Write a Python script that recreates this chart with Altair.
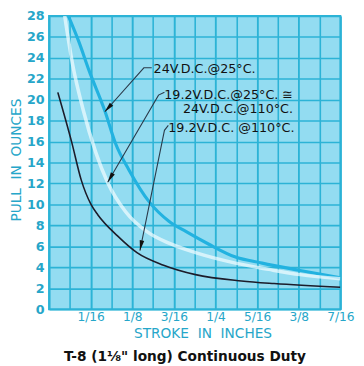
import math
import altair as alt
import pandas as pd

# ---- data (stroke in inches, pull in ounces) ----
cyan_x = [0.029, 0.045, 0.060, 0.084, 0.100, 0.120, 0.151, 0.180, 0.206, 0.240, 0.279, 0.320, 0.377, 0.4375]
cyan_y = [28.0, 25.5, 22.8, 18.9, 15.8, 13.3, 10.2, 8.4, 7.4, 6.2, 5.0, 4.4, 3.7, 3.0]

white_x = [0.0235, 0.035, 0.0514, 0.070, 0.088, 0.115, 0.147, 0.180, 0.220, 0.280, 0.330, 0.377, 0.4375]
white_y = [28.0, 23.5, 19.0, 15.0, 12.1, 9.3, 7.4, 6.3, 5.4, 4.4, 3.8, 3.3, 2.9]

black_x = [0.0132, 0.0338, 0.0485, 0.063, 0.0734, 0.1028, 0.132, 0.172, 0.220, 0.289, 0.338, 0.4375]
black_y = [20.7, 16.0, 12.3, 10.0, 9.0, 7.0, 5.4, 4.2, 3.3, 2.7, 2.45, 2.1]

x_tick_labels = ["", "1/16", "1/8", "3/16", "1/4", "5/16", "3/8", "7/16"]

label_text = ["24V.D.C.@25°C.", "19.2V.D.C.@25°C. ≅", "24V.D.C.@110°C.", "19.2V.D.C. @110°C."]
label_x = [0.157, 0.173, 0.201, 0.179]
label_y = [22.9, 20.4, 19.1, 17.3]

leader_id = [1, 1, 1, 2, 2, 2, 3, 3, 3]
leader_ord = [0, 1, 2, 0, 1, 2, 0, 1, 2]
leader_x = [0.1542, 0.1424, 0.0837, 0.1733, 0.1644, 0.0881, 0.1791, 0.1733, 0.1365]
leader_y = [23.05, 23.05, 18.85, 20.72, 20.44, 12.13, 17.55, 17.08, 5.60]

W, H = 298, 300
XMAX, YMAX = 0.4375, 28

xs = alt.Scale(domain=[0, XMAX], nice=False, zero=False)
ys = alt.Scale(domain=[0, YMAX], nice=False)

GRID = "#2cb3d6"
LBL = "#26a6c9"

label_expr = str(x_tick_labels) + "[round(datum.value*16)]"

# labelled axis at 1/16 steps
x_axis = alt.Axis(values=[k / 16 for k in range(8)], grid=True, gridColor=GRID, gridWidth=1.6,
                  ticks=False, domain=False, labelExpr=label_expr, labelFlush=False,
                  labelOverlap=False, labelColor=LBL, labelFont="DejaVu Sans", labelFontSize=12.5,
                  labelPadding=2, title="STROKE\u00a0\u00a0IN\u00a0\u00a0INCHES", titleColor=LBL,
                  titleFont="DejaVu Sans", titleFontSize=14, titleFontWeight="normal",
                  titleX=157, titleY=25, titleBaseline="middle", titleAlign="center")
# grid-only axis at 1/32 steps
x_grid_axis = alt.Axis(orient="top", values=[k / 32 for k in range(15)], grid=True, gridColor=GRID,
                       gridWidth=1.6, ticks=False, domain=False, labels=False, title=None)
y_axis = alt.Axis(values=list(range(0, 29, 2)), grid=True, gridColor=GRID, gridWidth=1.6,
                  ticks=False, domain=False, labelColor=LBL, labelFont="DejaVu Sans",
                  labelFontSize=13, labelFontWeight="bold", labelPadding=5, labelOverlap=False,
                  title="PULL\u00a0\u00a0IN\u00a0\u00a0OUNCES", titleColor=LBL, titleFont="DejaVu Sans",
                  titleFontSize=14, titleFontWeight="normal", titleX=-33, titleY=147,
                  titleAlign="center", titleBaseline="middle")

X = alt.X("x:Q", scale=xs, axis=x_axis)
XG = alt.X("x:Q", scale=xs, axis=x_grid_axis)
XN = alt.X("x:Q", scale=xs, axis=None)
Y = alt.Y("y:Q", scale=ys, axis=y_axis)


def curve(xv, yv, color, width, xenc, opacity=1.0):
    df = pd.DataFrame({"x": xv, "y": yv})
    return alt.Chart(df).mark_line(interpolate="monotone", color=color, strokeWidth=width,
                                   opacity=opacity, clip=True).encode(x=xenc, y=Y)


grid_layer = alt.Chart(pd.DataFrame({"x": black_x, "y": black_y})).mark_point(opacity=0).encode(x=XG, y=Y)

cyan = curve(cyan_x, cyan_y, "#22b2e0", 3.2, X)
white = curve(white_x, white_y, "#f2fcff", 3.6, XN, 0.7)
black = curve(black_x, black_y, "#1c1c2a", 1.6, XN)

lead_df = pd.DataFrame({"id": leader_id, "o": leader_ord, "x": leader_x, "y": leader_y})
leaders = alt.Chart(lead_df).mark_line(color="#2a3a4a", strokeWidth=1.1).encode(
    x=XN, y=Y, detail="id:N", order="o:Q")

# arrow heads at the leader tips, pointing along the last segment
hx, hy, ha = [], [], []
for i in range(3):
    x1, y1 = leader_x[3 * i + 1], leader_y[3 * i + 1]
    x2, y2 = leader_x[3 * i + 2], leader_y[3 * i + 2]
    dx = (x2 - x1) * W / XMAX
    dy = -(y2 - y1) * H / YMAX
    ang = math.degrees(math.atan2(dx, -dy)) % 360
    hx.append(x2); hy.append(y2); ha.append(ang)
head_df = pd.DataFrame({"x": hx, "y": hy, "a": ha})
heads = alt.Chart(head_df).mark_point(shape="M0,0L0.38,1.7L-0.38,1.7Z", filled=True, size=150,
                                      color="#111", opacity=1).encode(
    x=XN, y=Y, angle=alt.Angle("a:Q", scale=None))

txt_df = pd.DataFrame({"t": label_text, "x": label_x, "y": label_y})
texts = alt.Chart(txt_df).mark_text(align="left", baseline="middle", font="DejaVu Sans",
                                    fontSize=13, color="#111").encode(x=XN, y=Y, text="t:N")

chart = alt.layer(grid_layer, cyan, white, black, leaders, heads, texts).resolve_axis(
    x="independent"
).properties(
    width=W, height=H,
    background="white",
    autosize=alt.AutoSizeParams(type="none"),
    padding={"left": 42, "top": 4, "right": 16, "bottom": 54},
    title=alt.TitleParams("T-8 (1⅛\" long) Continuous Duty", orient="bottom", anchor="middle",
                          font="DejaVu Sans", fontSize=14, fontWeight="bold", color="#111",
                          offset=10, dx=-10),
).configure_view(fill="#93dcf1", stroke=GRID, strokeWidth=2)

chart.save("out.html", embed_options={"renderer": "svg", "actions": False})
